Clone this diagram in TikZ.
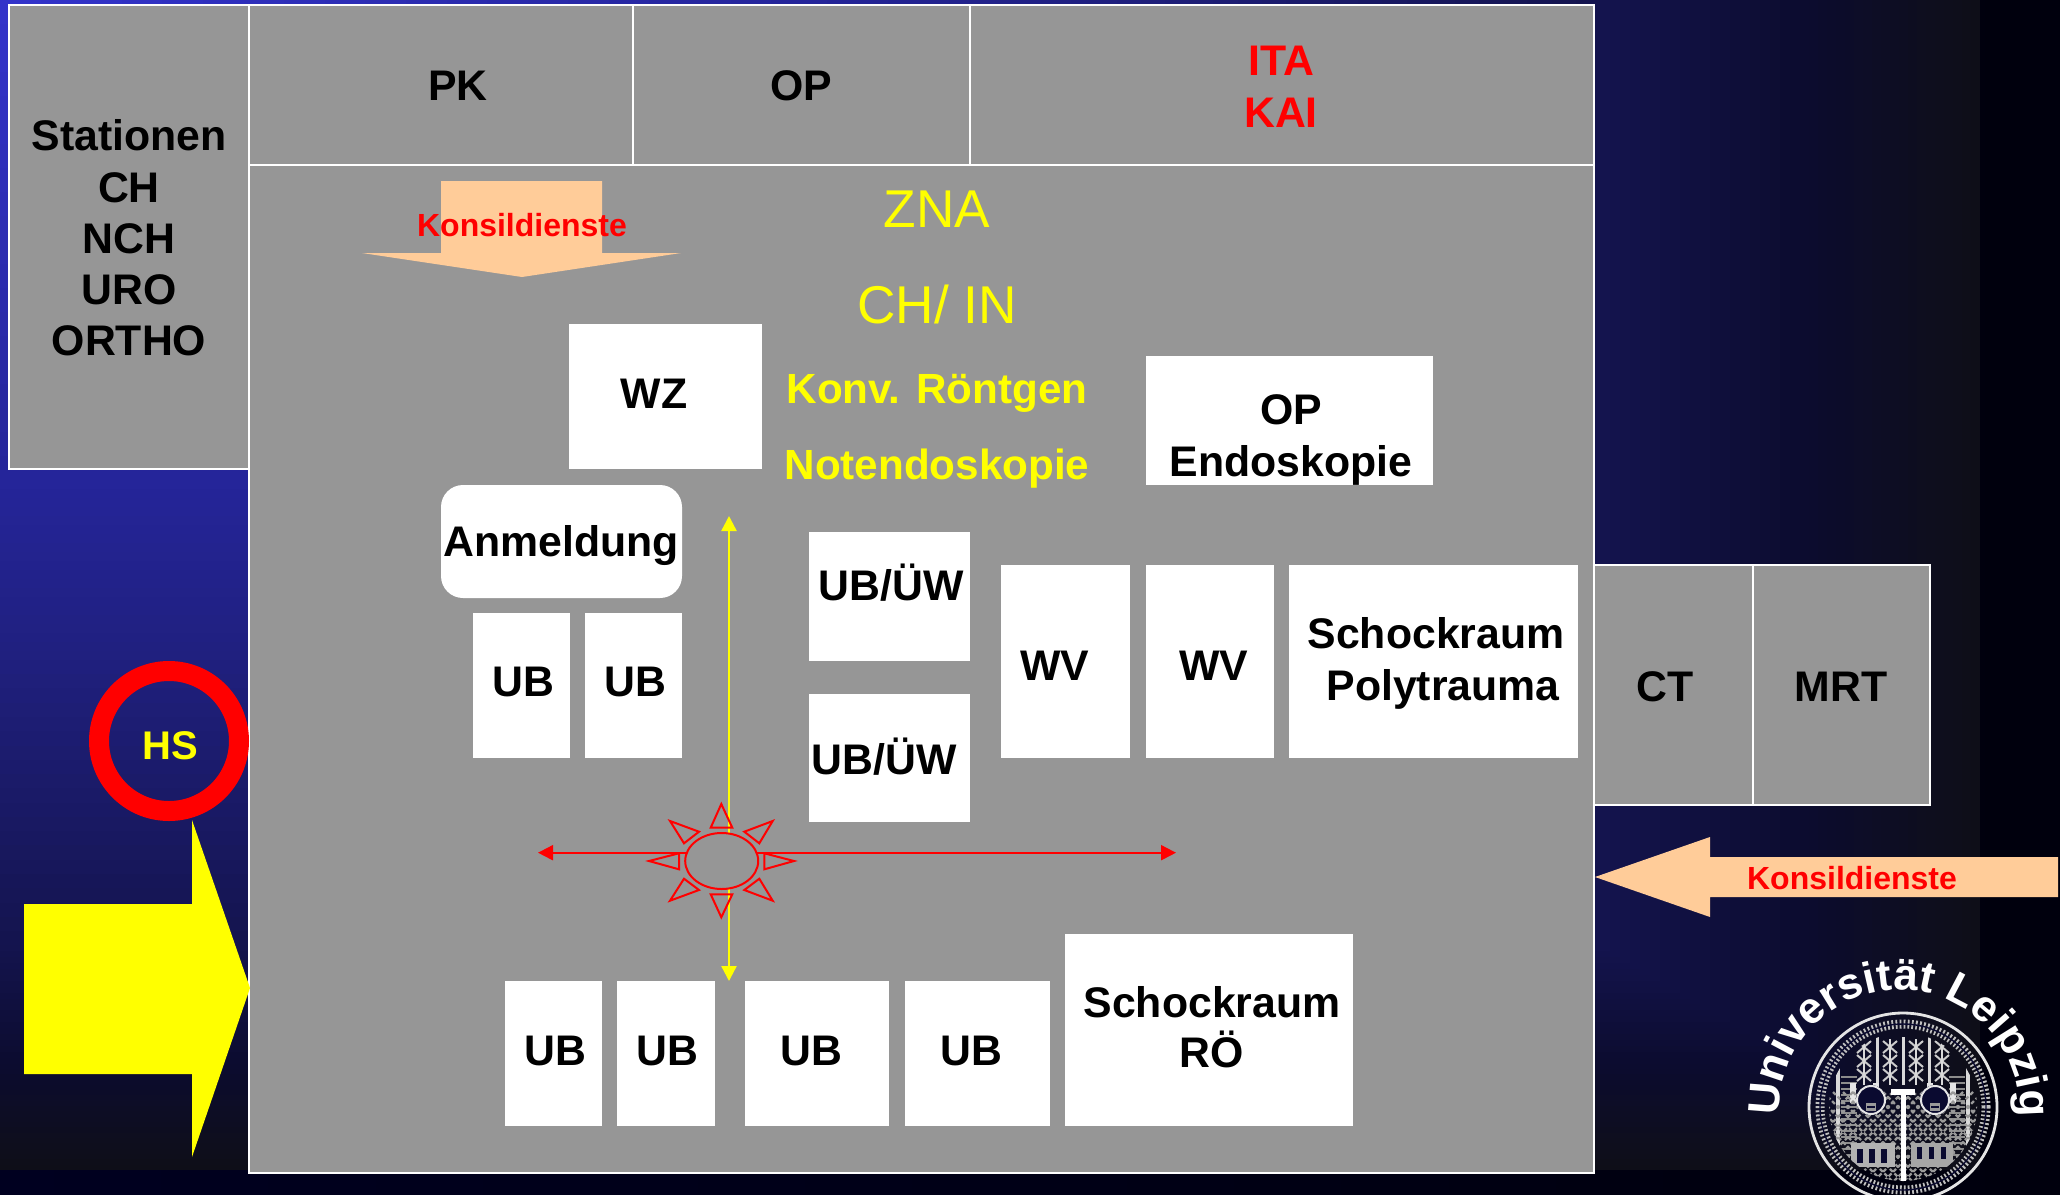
\documentclass[tikz,border=0pt]{standalone}
\usepackage{fontspec}
\setmainfont{Liberation Sans}
\usetikzlibrary{arrows.meta,shapes.geometric,decorations.text}
\definecolor{panelgray}{HTML}{969696}
\definecolor{peach}{HTML}{FFCC99}
\definecolor{pureyellow}{RGB}{255,255,0}
\definecolor{purered}{RGB}{255,0,0}
\definecolor{sealdark}{HTML}{0A0A30}
\definecolor{gA}{HTML}{3434CC}
\definecolor{gB}{HTML}{25259A}
\definecolor{gC}{HTML}{20207F}
\definecolor{gD}{HTML}{14144F}
\definecolor{gE}{HTML}{0C0C30}
\definecolor{gF}{HTML}{0E0E18}
\definecolor{gEdge}{HTML}{000020}
\newcommand\gradband[4]{\foreach \gi in {0,...,19}{%
  \pgfmathsetmacro\gtv{#2-(#2-#1)*\gi/20}%
  \pgfmathsetmacro\gpv{100*(1-\gi/20)}%
  \fill[#4!\gpv!#3] (0,0) rectangle ({1980*\gtv},{1170*\gtv});}}
\newcommand\bx[6]{\node[#2,minimum width={(#5-#3)*0.5pt},minimum height={(#6-#4)*0.5pt}] (#1) at ({(#3+#5)/2},{(#4+#6)/2}) {};}
\tikzset{
  panel/.style={draw=white,line width=1pt,fill=panelgray,inner sep=0pt,outer sep=0pt},
  wbox/.style={fill=white,inner sep=0pt,outer sep=0pt},
  rbox/.style={fill=white,inner sep=0pt,outer sep=0pt,rounded corners=11pt},
  lab/.style={inner sep=0pt,outer sep=0pt,text depth=0pt,align=center},
  blk/.style={lab,text height=15.3pt,font=\fontsize{21.4}{25}\selectfont\bfseries,text=black},
  redlab/.style={lab,text height=15.3pt,font=\fontsize{21.4}{25}\selectfont\bfseries,text=purered},
  konsil/.style={lab,text height=11.5pt,font=\fontsize{16}{19}\selectfont\bfseries,text=purered},
  yelbig/.style={lab,text height=19pt,font=\fontsize{26.6}{30}\selectfont,text=pureyellow},
  yelbold/.style={lab,text height=15.1pt,font=\fontsize{21.1}{25}\selectfont\bfseries,text=pureyellow},
  sunline/.style={draw=purered,line width=1pt,line join=miter},
  redarrow/.style={draw=purered,line width=1pt,-{Triangle[length=7.5pt,width=7.5pt]}},
  yelarrow/.style={draw=pureyellow,line width=1.2pt,-{Triangle[length=7.5pt,width=7.5pt]}}
}
\begin{document}
\begin{tikzpicture}[x=0.5pt,y=-0.5pt]
\useasboundingbox (0,0) rectangle (2060,1194);
\clip (0,0) rectangle (2060,1194);
% background
\shade[left color=gEdge,right color=black!60!gEdge] (0,0) rectangle (2060,1194);
\gradband{0.909}{1}{gE}{gF}
\gradband{0.808}{0.909}{gD}{gE}
\gradband{0.564}{0.808}{gC}{gD}
\gradband{0.41}{0.564}{gB}{gC}
\gradband{0}{0.41}{gA}{gB}
% panels
\bx{stat}{panel}{9}{5}{249}{469}
\bx{main}{panel}{249}{165}{1594}{1173}
\bx{pk}{panel}{249}{5}{633}{165}
\bx{oppanel}{panel}{633}{5}{970}{165}
\bx{ita}{panel}{970}{5}{1594}{165}
\bx{ct}{panel}{1594}{565}{1753}{805}
\bx{mrt}{panel}{1753}{565}{1930}{805}
% white boxes
\bx{wz}{wbox}{569}{324}{762}{469}
\bx{opendo}{wbox}{1146}{356}{1433}{485}
\bx{anm}{rbox}{441}{485}{682}{598}
\bx{ub1}{wbox}{473}{613}{570}{758}
\bx{ub2}{wbox}{585}{613}{682}{758}
\bx{ubu1}{wbox}{809}{532}{970}{661}
\bx{ubu2}{wbox}{809}{694}{970}{822}
\bx{wv1}{wbox}{1001}{565}{1130}{758}
\bx{wv2}{wbox}{1146}{565}{1274}{758}
\bx{schockp}{wbox}{1289}{565}{1578}{758}
\bx{ub3}{wbox}{505}{981}{602}{1126}
\bx{ub4}{wbox}{617}{981}{715}{1126}
\bx{ub5}{wbox}{745}{981}{889}{1126}
\bx{ub6}{wbox}{905}{981}{1050}{1126}
\bx{schockr}{wbox}{1065}{934}{1353}{1126}
% big arrows
\fill[peach] (441,181) -- (602,181) -- (602,253) -- (681,253) -- (522,277) -- (362,253) -- (441,253) -- cycle;
\fill[peach] (1595,877) -- (1710,837) -- (1710,857) -- (2058,857) -- (2058,897) -- (1710,897) -- (1710,917) -- cycle;
\fill[pureyellow] (24,904) -- (192,904) -- (192,820) -- (250,988) -- (192,1157) -- (192,1074) -- (24,1074) -- cycle;
% HS
\node[draw=purered,line width=10pt,circle,minimum size=70pt,inner sep=0pt] (hsring) at (169,741) {};
\node[lab,text height=14.3pt,font=\fontsize{20}{24}\selectfont\bfseries,text=pureyellow] (hs) at (170,745) {HS};
% cross arrows and sun
\coordinate (ytop) at (729,516);
\coordinate (ybot) at (729,981);
\coordinate (yorig) at (729,861);
\coordinate (rleft) at (538,852.7);
\coordinate (rright) at (1176,852.7);
\coordinate (rorig) at (721,852.7);
\draw[yelarrow] (yorig) -- (ytop);
\draw[yelarrow] (yorig) -- (ybot);
\draw[redarrow] (rorig) -- (rleft);
\draw[redarrow] (rorig) -- (rright);
\node[ellipse,draw=purered,line width=1pt,fill=panelgray,minimum width=36.5pt,minimum height=28pt,inner sep=0pt] (sun) at (721.7,861) {};
\coordinate (a1) at (721.3,804);\coordinate (a2) at (710.7,827.7);\coordinate (a3) at (732.3,827.7);
\coordinate (b1) at (721.3,917.3);\coordinate (b2) at (710.7,894.3);\coordinate (b3) at (732.3,894.3);
\coordinate (c1) at (649,861);\coordinate (c2) at (679,853.3);\coordinate (c3) at (679,869.3);
\coordinate (d1) at (794,861);\coordinate (d2) at (764.3,853.3);\coordinate (d3) at (764.3,869.3);
\coordinate (e1) at (670,821);\coordinate (e2) at (699,831.7);\coordinate (e3) at (684,843.3);
\coordinate (f1) at (772.7,821);\coordinate (f2) at (744.3,831.7);\coordinate (f3) at (759.3,843.3);
\coordinate (g1) at (670,900.7);\coordinate (g2) at (699,890);\coordinate (g3) at (684,878.7);
\coordinate (h1) at (772.7,900.7);\coordinate (h2) at (744.3,890);\coordinate (h3) at (759.3,878.7);
\draw[sunline] (a1) -- (a2) -- (a3) -- cycle;
\draw[sunline] (b1) -- (b2) -- (b3) -- cycle;
\draw[sunline] (c1) -- (c2) -- (c3) -- cycle;
\draw[sunline] (d1) -- (d2) -- (d3) -- cycle;
\draw[sunline] (e1) -- (e2) -- (e3) -- cycle;
\draw[sunline] (f1) -- (f2) -- (f3) -- cycle;
\draw[sunline] (g1) -- (g2) -- (g3) -- cycle;
\draw[sunline] (h1) -- (h2) -- (h3) -- cycle;
% labels
\node[blk] (t1) at (129,135) {Stationen};
\node[blk] (t2) at (129,187) {CH};
\node[blk] (t3) at (129,238) {NCH};
\node[blk] (t4) at (129,289) {URO};
\node[blk] (t5) at (129,340) {ORTHO};
\node[blk] (t6) at (458,85) {PK};
\node[blk] (t7) at (801,85) {OP};
\node[redlab] (t8) at (1281,60) {ITA};
\node[redlab] (t9) at (1281,112) {KAI};
\node[yelbig] (t10) at (937,208) {ZNA};
\node[yelbig] (t11) at (937,304) {CH/ IN};
\node[yelbold] (t12) at (937,388) {Konv. Röntgen};
\node[yelbold] (t13) at (937,464) {Notendoskopie};
\node[konsil] (t14) at (522,225) {Konsildienste};
\node[konsil] (t15) at (1852,878) {Konsildienste};
\node[blk] (t16) at (654,393) {WZ};
\node[blk] (t17) at (1291,409) {OP};
\node[blk] (t18) at (1291,461) {Endoskopie};
\node[blk] (t19) at (561,541) {Anmeldung};
\node[blk] (t20) at (523,681) {UB};
\node[blk] (t21) at (635,681) {UB};
\node[blk] (t22) at (891,585) {UB/ÜW};
\node[blk] (t23) at (884,759) {UB/ÜW};
\node[blk] (t24) at (1055,665) {WV};
\node[blk] (t25) at (1214,665) {WV};
\node[blk] (t26) at (1436,633) {Schockraum};
\node[blk] (t27) at (1443,685) {Polytrauma};
\node[blk] (t28) at (1665,686) {CT};
\node[blk] (t29) at (1841,686) {MRT};
\node[blk] (t30) at (555,1050) {UB};
\node[blk] (t31) at (667,1050) {UB};
\node[blk] (t32) at (811,1050) {UB};
\node[blk] (t33) at (971,1050) {UB};
\node[blk] (t34) at (1212,1002) {Schockraum};
\node[blk] (t35) at (1212,1052) {RÖ};
% logo lettering
\path[decorate,decoration={text along path,text align={fit to path},
  text={|\fontsize{22}{26}\selectfont\bfseries\color{white}|Universität Leipzig}}]
  (1780,1116) arc[start angle=183,end angle=-3,radius=60pt];
% seal
\begin{scope}[shift={(1903,1107)}]
  \draw[white!90!black,line width=1.4pt] (0,0) circle[radius=47pt];
  \draw[white!75!black,line width=4.5pt,dash pattern=on 0.9pt off 1.1pt] (0,0) circle[radius=41.5pt];
  \draw[sealdark,line width=0.7pt] (0,0) circle[radius=41.5pt];
  \begin{scope}
    \clip (0,0) circle[radius=37pt];
    % side bars and stripes
    \fill[white!85!black] (-67,-70) rectangle (-63,40);
    \fill[white!85!black] (63,-70) rectangle (67,40);
    \foreach \yy in {-30,-24,...,48}{
      \draw[white!55!black,line width=0.7pt] (-62,\yy) -- (-46,\yy);
      \draw[white!55!black,line width=0.7pt] (46,\yy) -- (62,\yy);
    }
    % top tracery panels
    \foreach \xx in {-39,-13,13,39}{
      \foreach \yy in {-60,-46,-32}{
        \draw[white!80!black,line width=1pt] (\xx-7,\yy-6) -- (\xx+7,\yy+6);
        \draw[white!80!black,line width=1pt] (\xx+7,\yy-6) -- (\xx-7,\yy+6);
      }
      \draw[white!85!black,line width=0.7pt] (\xx,-68) -- (\xx,-22);
    }
    \foreach \xx in {-26,0,26}{\fill[white!85!black] (\xx-1.5,-70) rectangle (\xx+1.5,-22);}
    \foreach \xx in {-50,-27,27,50}{\fill[white!90!black] (\xx-3,-24) rectangle (\xx+3,-4);}
    % lattice
    \foreach \dd in {-100,-90,...,100}{
      \draw[white!60!black,line width=1.1pt,dash pattern=on 2pt off 1.2pt] (\dd-50,-15) -- (\dd+50,85);
      \draw[white!60!black,line width=1.1pt,dash pattern=on 2pt off 1.2pt] (\dd+50,-15) -- (\dd-50,85);
    }
    % figures' lower parts
    \fill[white!70!black] (-52,36) rectangle (-8,60);
    \fill[white!65!black] (8,36) rectangle (50,60);
    \foreach \xx in {-46,-34,-22}{\fill[sealdark] (\xx,42) rectangle (\xx+6,56);}
    \foreach \xx in {14,26,38}{\fill[sealdark] (\xx,40) rectangle (\xx+5,52);}
    % centre cross
    \fill[white] (-2.5,-16) rectangle (2.5,80);
    \fill[white] (-12,-18) rectangle (12,-12);
    % halos
    \foreach \xx in {-32,32}{
      \fill[sealdark] (\xx,-7) circle[radius=7.5pt];
      \draw[white!90!black,line width=1pt] (\xx,-7) circle[radius=7pt];
      \fill[white!60!black] (\xx-5,-4) rectangle (\xx+5,4);
      \fill[sealdark] (\xx-4,-1) rectangle (\xx+4,1);
    }
  \end{scope}
\end{scope}
\end{tikzpicture}
\end{document}
